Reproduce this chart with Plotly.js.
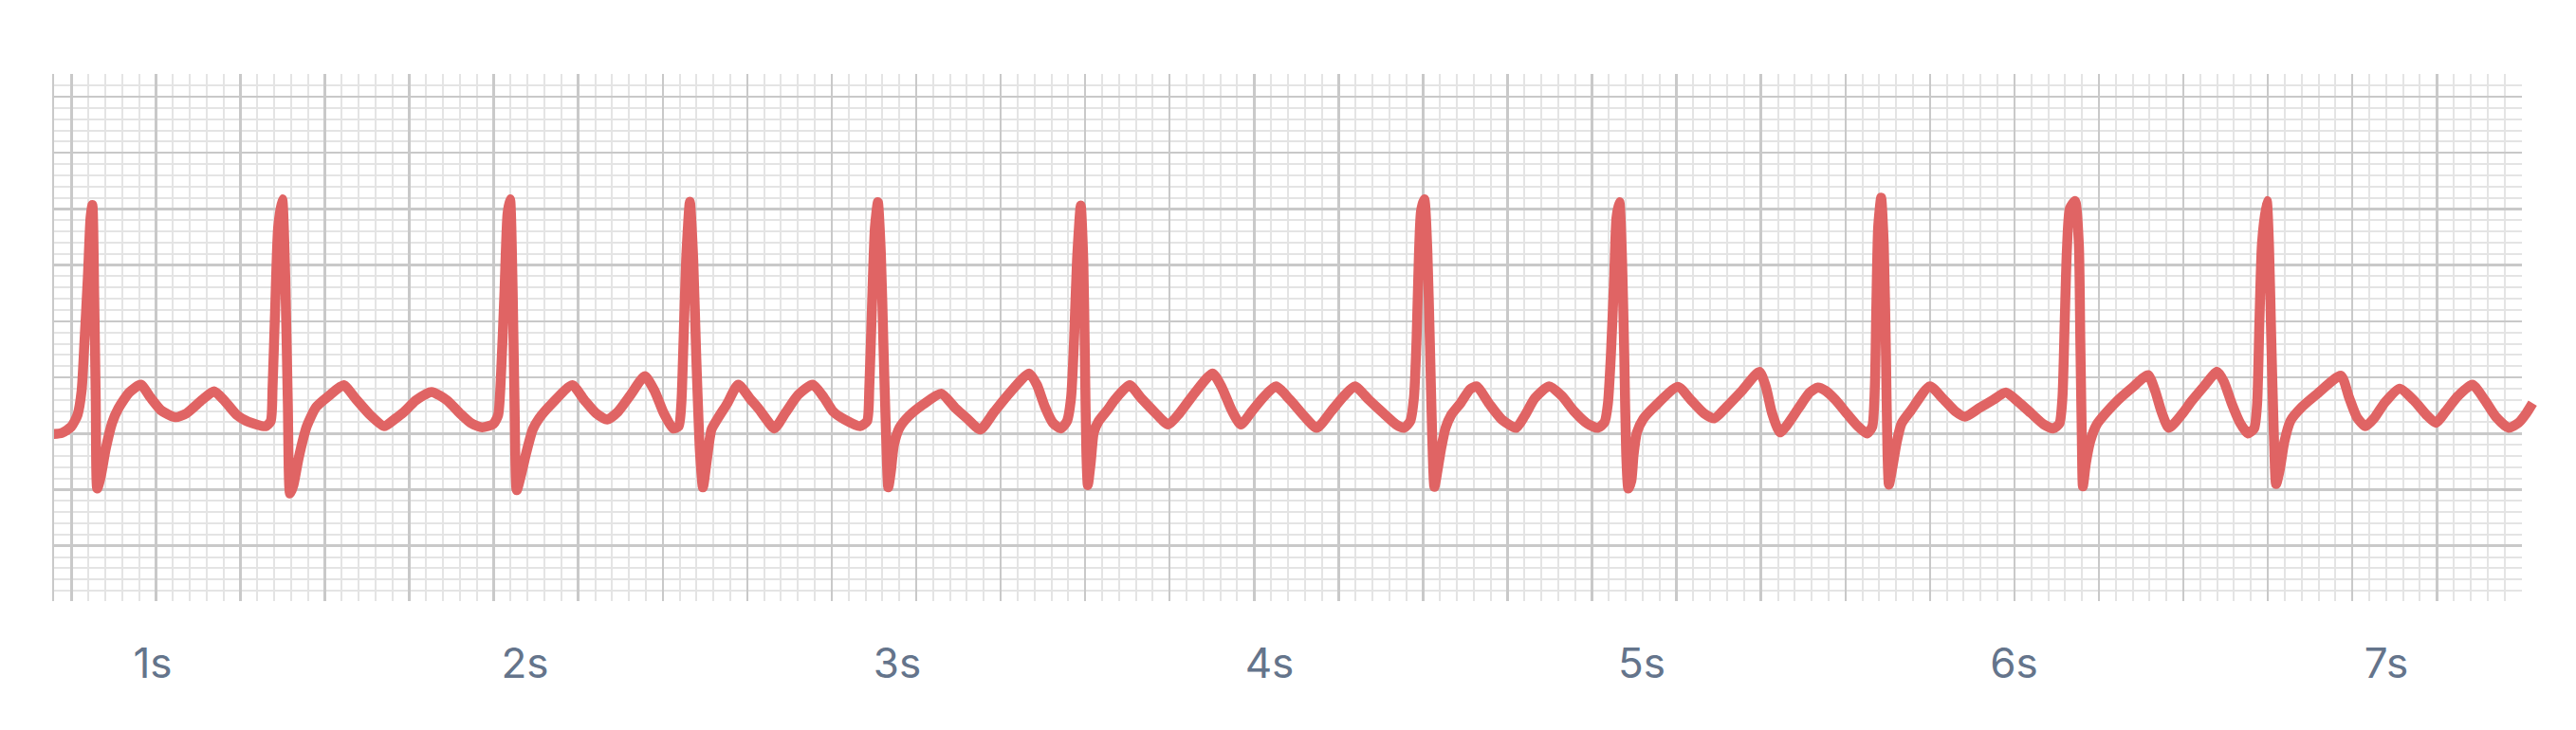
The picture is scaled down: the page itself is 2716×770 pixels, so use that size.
<!DOCTYPE html>
<html>
<head>
<meta charset="utf-8">
<script src="https://cdn.plot.ly/plotly-3.0.1.min.js"></script>
<style>
  html, body { margin: 0; padding: 0; background: #ffffff; }
  #chart { width: 2716px; height: 770px; }
</style>
</head>
<body>
<div id="chart"></div>
<script>
// ECG trace (time in seconds, amplitude in large-grid units)
const timeSec = [
  0.734, 0.756, 0.781, 0.798, 0.809, 0.817, 0.826, 0.833, 0.838, 0.843, 0.847, 0.851, 0.860, 0.874, 0.891, 0.908, 0.937, 0.968, 0.994, 1.023, 1.061, 1.091, 1.133, 1.165, 1.192, 1.226, 1.257, 1.303,
  1.317, 1.322, 1.329, 1.337, 1.348, 1.356, 1.363, 1.369, 1.378, 1.392, 1.414, 1.439, 1.473, 1.513, 1.545, 1.584, 1.622, 1.651,
  1.673, 1.707, 1.749, 1.791, 1.825, 1.856, 1.885, 1.915, 1.928, 1.936, 1.945, 1.953, 1.960, 1.967, 1.972, 1.978, 1.989, 2.004, 2.021, 2.038, 2.072, 2.127, 2.160, 2.191, 2.221, 2.250, 2.284, 2.322, 2.348, 2.373, 2.398,
  2.413, 2.420, 2.426, 2.433, 2.443, 2.452, 2.460, 2.470, 2.478, 2.488, 2.501, 2.518, 2.543, 2.573, 2.607,
  2.628, 2.649, 2.670, 2.700, 2.734, 2.773, 2.803, 2.828, 2.858, 2.900, 2.919, 2.925, 2.932, 2.940, 2.948, 2.956, 2.963, 2.970, 2.976, 2.983, 2.991, 3.006, 3.031, 3.070, 3.118, 3.155, 3.189, 3.223, 3.261, 3.303, 3.354, 3.375, 3.397, 3.418, 3.439,
  3.456, 3.467, 3.475, 3.483, 3.493, 3.500, 3.504, 3.508, 3.512, 3.520, 3.528, 3.541, 3.566,
  3.583, 3.624, 3.655, 3.690, 3.728, 3.758, 3.800, 3.847, 3.872, 3.898, 3.923, 3.952, 3.983, 4.017, 4.055, 4.093, 4.127, 4.165, 4.199, 4.229, 4.267, 4.306, 4.340, 4.361,
  4.378, 4.388, 4.395, 4.401, 4.407, 4.416, 4.424, 4.431, 4.437, 4.443, 4.451, 4.461, 4.473, 4.488, 4.513,
  4.539, 4.557, 4.590, 4.624, 4.662, 4.685, 4.713, 4.751, 4.785, 4.819, 4.853, 4.882, 4.900, 4.909, 4.917, 4.926, 4.932, 4.940, 4.947, 4.953, 4.958, 4.964, 4.972, 4.978, 4.987, 5.004, 5.036, 5.097, 5.133, 5.167, 5.195, 5.227, 5.269, 5.316, 5.333, 5.350, 5.371, 5.388, 5.422, 5.451, 5.473,
  5.494, 5.520, 5.554, 5.579, 5.605, 5.619, 5.626, 5.630, 5.635, 5.643, 5.650, 5.656, 5.660, 5.664, 5.673, 5.685, 5.698, 5.723, 5.774, 5.809, 5.843, 5.868, 5.906, 5.944, 5.978, 6.012, 6.046, 6.080, 6.106,
  6.122, 6.130, 6.136, 6.142, 6.150, 6.164, 6.174, 6.178, 6.182, 6.185, 6.193, 6.205, 6.222, 6.246, 6.280, 6.318, 6.360, 6.379, 6.396, 6.416,
  6.454, 6.475, 6.509, 6.546, 6.564, 6.585, 6.607, 6.628, 6.645, 6.653, 6.659, 6.666, 6.679, 6.685, 6.691, 6.698, 6.704, 6.714, 6.726, 6.743, 6.773, 6.815, 6.878, 6.900, 6.921, 6.944, 6.967, 6.997, 7.036, 7.074, 7.108, 7.133, 7.159, 7.193, 7.231, 7.265, 7.294, 7.329, 7.355, 7.376, 7.393
];
const amplitude = [
  -0.01, 0.01, 0.12, 0.33, 0.76, 1.67, 2.81, 3.84, 4.07, 2.40, 0.60, -0.98, -0.78, -0.27, 0.19, 0.45, 0.73, 0.87, 0.64, 0.41, 0.29, 0.36, 0.60, 0.75, 0.59, 0.33, 0.21, 0.13,
  0.22, 0.82, 2.24, 3.67, 4.17, 2.81, 0.53, -1.07, -0.92, -0.44, 0.13, 0.47, 0.67, 0.86, 0.62, 0.33, 0.13, 0.26,
  0.37, 0.59, 0.74, 0.59, 0.36, 0.18, 0.11, 0.17, 0.33, 1.10, 2.53, 3.90, 4.17, 2.53, 0.53, -1.01, -0.75, -0.33, 0.07, 0.27, 0.53, 0.86, 0.59, 0.36, 0.25, 0.39, 0.69, 1.02, 0.76, 0.36, 0.09,
  0.13, 0.53, 1.67, 3.10, 4.13, 3.10, 1.39, -0.33, -0.96, -0.50, 0.07, 0.27, 0.53, 0.87, 0.60,
  0.44, 0.25, 0.09, 0.37, 0.69, 0.87, 0.64, 0.39, 0.25, 0.13, 0.22, 0.82, 2.24, 3.67, 4.12, 3.21, 1.56, -0.04, -0.96, -0.67, -0.21, 0.10, 0.31, 0.52, 0.71, 0.46, 0.26, 0.07, 0.39, 0.73, 1.07, 0.87, 0.47, 0.19, 0.09,
  0.22, 0.64, 1.67, 3.10, 4.06, 3.04, 1.39, -0.33, -0.92, -0.50, 0.02, 0.22, 0.43,
  0.59, 0.86, 0.63, 0.39, 0.16, 0.36, 0.73, 1.07, 0.82, 0.42, 0.16, 0.39, 0.64, 0.84, 0.60, 0.31, 0.10, 0.39, 0.66, 0.84, 0.60, 0.36, 0.16, 0.10,
  0.22, 0.64, 1.67, 3.10, 3.96, 4.17, 3.27, 1.56, -0.04, -0.95, -0.67, -0.27, 0.10, 0.33, 0.54,
  0.79, 0.84, 0.53, 0.25, 0.10, 0.31, 0.63, 0.84, 0.67, 0.39, 0.18, 0.10, 0.20, 0.53, 1.39, 2.81, 3.84, 4.12, 3.10, 1.39, -0.33, -0.98, -0.84, -0.38, 0.02, 0.26, 0.49, 0.83, 0.59, 0.36, 0.27, 0.47, 0.76, 1.10, 0.84, 0.36, 0.02, 0.13, 0.46, 0.73, 0.82,
  0.76, 0.60, 0.33, 0.14, 0.00, 0.12, 0.82, 2.24, 3.67, 4.20, 3.38, 1.39, -0.33, -0.91, -0.61, -0.15, 0.18, 0.41, 0.84, 0.62, 0.39, 0.30, 0.45, 0.60, 0.73, 0.56, 0.36, 0.16, 0.09,
  0.18, 0.64, 1.96, 3.27, 4.01, 4.14, 3.38, 1.67, -0.04, -0.94, -0.53, -0.13, 0.16, 0.36, 0.60, 0.82, 1.04, 0.76, 0.39, 0.10,
  0.37, 0.56, 0.83, 1.10, 0.92, 0.53, 0.19, 0.00, 0.09, 0.53, 1.96, 3.38, 4.14, 3.33, 1.67, -0.04, -0.90, -0.64, -0.15, 0.23, 0.47, 0.71, 1.03, 0.64, 0.29, 0.13, 0.27, 0.56, 0.80, 0.59, 0.33, 0.19, 0.39, 0.67, 0.87, 0.59, 0.30, 0.10, 0.19, 0.36, 0.54
];
const tickSeconds = [1, 2, 3, 4, 5, 6, 7];
const tickLabels = ['1s', '2s', '3s', '4s', '5s', '6s', '7s'];

// Layout constants (pixels per second = 392.5)
const PX_PER_S = 392.5;
const PLOT_W = 2716 - 57 - 26;
const X_START = 0.73503;
const X_END_TRACE = X_START + PLOT_W / PX_PER_S;   // the line runs a little past the grid
const X_END_GRID = 7.3632;
const GRID_FRAC = (X_END_GRID - X_START) * PX_PER_S / PLOT_W;
const MAJOR = 0.226930, MINOR = 0.045386, GRID0 = 0.78166;
const Y_RANGE = [-2.985, 6.405];
const MAJOR_COLOR = '#c9c9c9', MINOR_COLOR = '#e4e4e4';
const LINE_COLOR = '#e06464';

const gridTrace = {   // same trace on the grid subplot (transparent) so that subplot is built
  x: timeSec, y: amplitude, type: 'scatter', mode: 'lines',
  line: { color: LINE_COLOR, width: 10.5, shape: 'spline', smoothing: 0.6 },
  opacity: 0, hoverinfo: 'skip', xaxis: 'x', yaxis: 'y'
};
const ecgTrace = {
  x: timeSec, y: amplitude, type: 'scatter', mode: 'lines',
  line: { color: LINE_COLOR, width: 10.5, shape: 'spline', smoothing: 0.6 },
  hoverinfo: 'skip', xaxis: 'x2', yaxis: 'y2'
};

const layout = {
  width: 2716, height: 770,
  margin: { l: 57, r: 26, t: 78, b: 136, pad: 0 },
  paper_bgcolor: '#ffffff', plot_bgcolor: 'rgba(0,0,0,0)',
  showlegend: false,
  xaxis: {
    domain: [0, GRID_FRAC], anchor: 'y',
    range: [X_START, X_END_GRID], tickmode: 'linear', tick0: GRID0, dtick: MAJOR,
    showticklabels: false, ticks: '', zeroline: false, showline: false,
    showgrid: true, gridcolor: MAJOR_COLOR, gridwidth: 2.5,
    minor: { tickmode: 'linear', tick0: GRID0, dtick: MINOR, showgrid: true, gridcolor: MINOR_COLOR, gridwidth: 2, ticks: '' }
  },
  yaxis: {
    domain: [0, 1], anchor: 'x',
    range: Y_RANGE, tickmode: 'linear', tick0: 0, dtick: 1,
    showticklabels: false, ticks: '', zeroline: false,
    showline: true, linecolor: MAJOR_COLOR, linewidth: 2.5,
    showgrid: true, gridcolor: MAJOR_COLOR, gridwidth: 2.5,
    minor: { tickmode: 'linear', tick0: 0, dtick: 0.2, showgrid: true, gridcolor: MINOR_COLOR, gridwidth: 2, ticks: '' }
  },
  xaxis2: {
    domain: [0, 1], anchor: 'y2', range: [X_START, X_END_TRACE],
    tickmode: 'array', tickvals: tickSeconds, ticktext: tickLabels,
    showgrid: false, zeroline: false, showline: false,
    ticks: 'outside', ticklen: 27, tickcolor: 'rgba(0,0,0,0)',
    tickfont: { family: 'Inter, sans-serif', size: 44, color: '#64748b' }
  },
  yaxis2: {
    domain: [0, 1], anchor: 'x2', range: Y_RANGE,
    showgrid: false, zeroline: false, showline: false, showticklabels: false, ticks: ''
  }
};

Plotly.newPlot('chart', [gridTrace, ecgTrace], layout, { displayModeBar: false, staticPlot: true });
</script>
</body>
</html>
